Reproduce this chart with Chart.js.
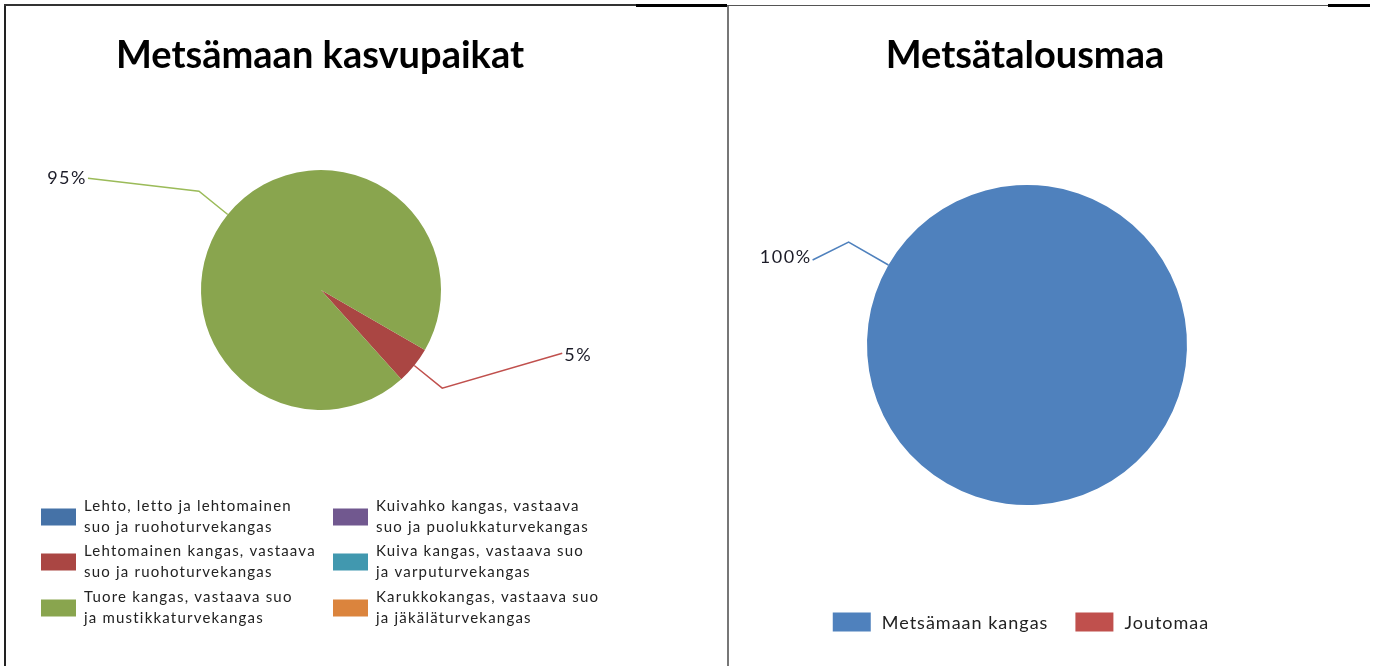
<!DOCTYPE html>
<html>
<head>
<meta charset="utf-8">
<script src="https://cdn.jsdelivr.net/npm/chart.js@4.4.0/dist/chart.umd.min.js"></script>
<style>
  html, body { margin:0; padding:0; background:#fff; }
  body { width:1378px; height:666px; position:relative; overflow:hidden; }
  canvas { position:absolute; top:0; }
  .ln { position:absolute; }
</style>
</head>
<body>
<canvas id="left" width="727" height="666" style="left:0px"></canvas>
<canvas id="right" width="650" height="666" style="left:728px"></canvas>
<div class="ln" style="left:4px;top:5px;width:2px;height:661px;background:#222"></div>
<div class="ln" style="left:4px;top:4px;width:632px;height:2px;background:#333"></div>
<div class="ln" style="left:636px;top:4px;width:91px;height:3px;background:#000"></div>
<div class="ln" style="left:727px;top:5px;width:2px;height:661px;background:#777"></div>
<div class="ln" style="left:727px;top:5px;width:601px;height:1px;background:#555"></div>
<div class="ln" style="left:1328px;top:4px;width:42px;height:3px;background:#000"></div>
<script>
// ---- data ----
const leftTitle = 'Metsämaan kasvupaikat';
const leftCategories = [
  ['Lehto, letto ja lehtomainen', 'suo ja ruohoturvekangas'],
  ['Lehtomainen kangas, vastaava', 'suo ja ruohoturvekangas'],
  ['Tuore kangas, vastaava suo', 'ja mustikkaturvekangas'],
  ['Kuivahko kangas, vastaava', 'suo ja puolukkaturvekangas'],
  ['Kuiva kangas, vastaava suo', 'ja varputurvekangas'],
  ['Karukkokangas, vastaava suo', 'ja jäkäläturvekangas']
];
const leftValues = [0, 5, 95, 0, 0, 0];

const rightTitle = 'Metsätalousmaa';
const rightCategories = ['Metsämaan kangas', 'Joutomaa'];
const rightValues = [100, 0];

// ---- styles ----
const leftColors = ['#4572A7', '#AA4643', '#89A54E', '#71588F', '#4198AF', '#DB843D'];
const leftLineColors = ['#4F81BD', '#C0504D', '#9BBB59', '#8064A2', '#4BACC6', '#F79646'];
const rightColors = ['#4F81BD', '#C0504D'];
const rightLineColors = ['#4F81BD', '#C0504D'];

const decor = {
  id: 'decor',
  afterDraw(chart, args, opts) {
    const ctx = chart.ctx;
    ctx.save();
    // title
    ctx.letterSpacing = '0px';
    ctx.font = 'bold ' + opts.titleSize + 'px Lato';
    ctx.fillStyle = '#000';
    ctx.textAlign = 'center';
    ctx.textBaseline = 'middle';
    ctx.fillText(opts.title, opts.titleX, opts.titleY);

    // leader lines and percentage labels
    const ds = chart.data.datasets[0];
    const data = ds.data;
    const total = data.reduce((a, b) => a + b, 0);
    const meta = chart.getDatasetMeta(0);
    ctx.font = opts.labelSize + 'px Lato';
    ctx.letterSpacing = opts.labelSpacing + 'px';
    ctx.textBaseline = 'middle';
    meta.data.forEach((arc, i) => {
      if (!data[i]) return;
      const p = arc.getProps(['x', 'y', 'startAngle', 'endAngle', 'outerRadius'], true);
      const mid = (p.startAngle + p.endAngle) / 2;
      const c = Math.cos(mid), s = Math.sin(mid);
      const L = opts.leaders[i];
      const ex = p.x + c * p.outerRadius, ey = p.y + s * p.outerRadius;
      const bx = p.x + c * (p.outerRadius + L.ext), by = p.y + s * (p.outerRadius + L.ext);
      const tx = bx + L.dx, ty = by + L.dy;
      ctx.strokeStyle = opts.lineColors[i];
      ctx.lineWidth = 1.5;
      ctx.beginPath();
      ctx.moveTo(ex, ey); ctx.lineTo(bx, by); ctx.lineTo(tx, ty);
      ctx.stroke();
      ctx.fillStyle = '#1c1c28';
      ctx.textAlign = L.align;
      const pct = Math.round(data[i] / total * 100) + '%';
      ctx.fillText(pct, tx + (L.align === 'right' ? -1 : 2), ty + L.ty);
    });

    // legend
    const lg = opts.legend;
    ctx.font = lg.size + 'px Lato';
    ctx.letterSpacing = lg.spacing + 'px';
    ctx.textAlign = 'left';
    ctx.textBaseline = 'middle';
    const labels = chart.data.labels;
    const colors = ds.backgroundColor;
    if (lg.type === 'grid') {
      labels.forEach((lab, i) => {
        const col = Math.floor(i / lg.rows), row = i % lg.rows;
        const x = lg.colX[col], cy = lg.rowY[row];
        ctx.fillStyle = colors[i];
        ctx.fillRect(x, cy - lg.boxH / 2, lg.boxW, lg.boxH);
        ctx.fillStyle = '#222';
        const lines = Array.isArray(lab) ? lab : [lab];
        lines.forEach((t, k) => {
          const off = (k - (lines.length - 1) / 2) * lg.lineH;
          ctx.fillText(t, x + lg.boxW + lg.gap, cy + off);
        });
      });
    } else {
      let widths = labels.map(t => lg.boxW + lg.gap + ctx.measureText(t).width);
      let totalW = widths.reduce((a, b) => a + b, 0) + lg.itemGap * (labels.length - 1);
      let x = lg.centerX - totalW / 2;
      labels.forEach((t, i) => {
        ctx.fillStyle = colors[i];
        ctx.fillRect(x, lg.y - lg.boxH / 2, lg.boxW, lg.boxH);
        ctx.fillStyle = '#222';
        ctx.fillText(t, x + lg.boxW + lg.gap, lg.y + 1);
        x += widths[i] + lg.itemGap;
      });
    }
    ctx.restore();
  }
};

new Chart(document.getElementById('left'), {
  type: 'pie',
  data: {
    labels: leftCategories,
    datasets: [{ data: leftValues, backgroundColor: leftColors, borderWidth: 0 }]
  },
  options: {
    responsive: false,
    animation: false,
    rotation: 120,
    layout: { padding: { left: 201, right: 286, top: 170, bottom: 256 } },
    plugins: {
      legend: { display: false },
      tooltip: { enabled: false },
      title: { display: false },
      decor: {
        title: leftTitle, titleSize: 38, titleX: 320, titleY: 56,
        labelSize: 18, labelSpacing: 1.5,
        lineColors: leftLineColors,
        leaders: [
          null,
          { ext: 36, dx: 120, dy: -35, align: 'left', ty: 2 },
          { ext: 37, dx: -111, dy: -13, align: 'right', ty: 0 },
          null, null, null
        ],
        legend: { type: 'grid', rows: 3, colX: [41, 333], rowY: [517, 562, 608],
                  boxW: 35, boxH: 17, gap: 8, lineH: 21, size: 15, spacing: 1.2 }
      }
    }
  },
  plugins: [decor]
});

new Chart(document.getElementById('right'), {
  type: 'pie',
  data: {
    labels: rightCategories,
    datasets: [{ data: rightValues, backgroundColor: rightColors, borderWidth: 0 }]
  },
  options: {
    responsive: false,
    animation: false,
    rotation: 120,
    layout: { padding: { left: 139, right: 191, top: 185, bottom: 161 } },
    plugins: {
      legend: { display: false },
      tooltip: { enabled: false },
      title: { display: false },
      decor: {
        title: rightTitle, titleSize: 38, titleX: 297, titleY: 56,
        labelSize: 18, labelSpacing: 1.5,
        lineColors: rightLineColors,
        leaders: [
          { ext: 46, dx: -36, dy: 18, align: 'right', ty: -3 },
          { ext: 30, dx: 40, dy: 0, align: 'left', ty: 0 }
        ],
        legend: { type: 'row', centerX: 293, y: 622, boxW: 38, boxH: 19, gap: 11, itemGap: 27, size: 18, spacing: 1 }
      }
    }
  },
  plugins: [decor]
});
</script>
</body>
</html>
